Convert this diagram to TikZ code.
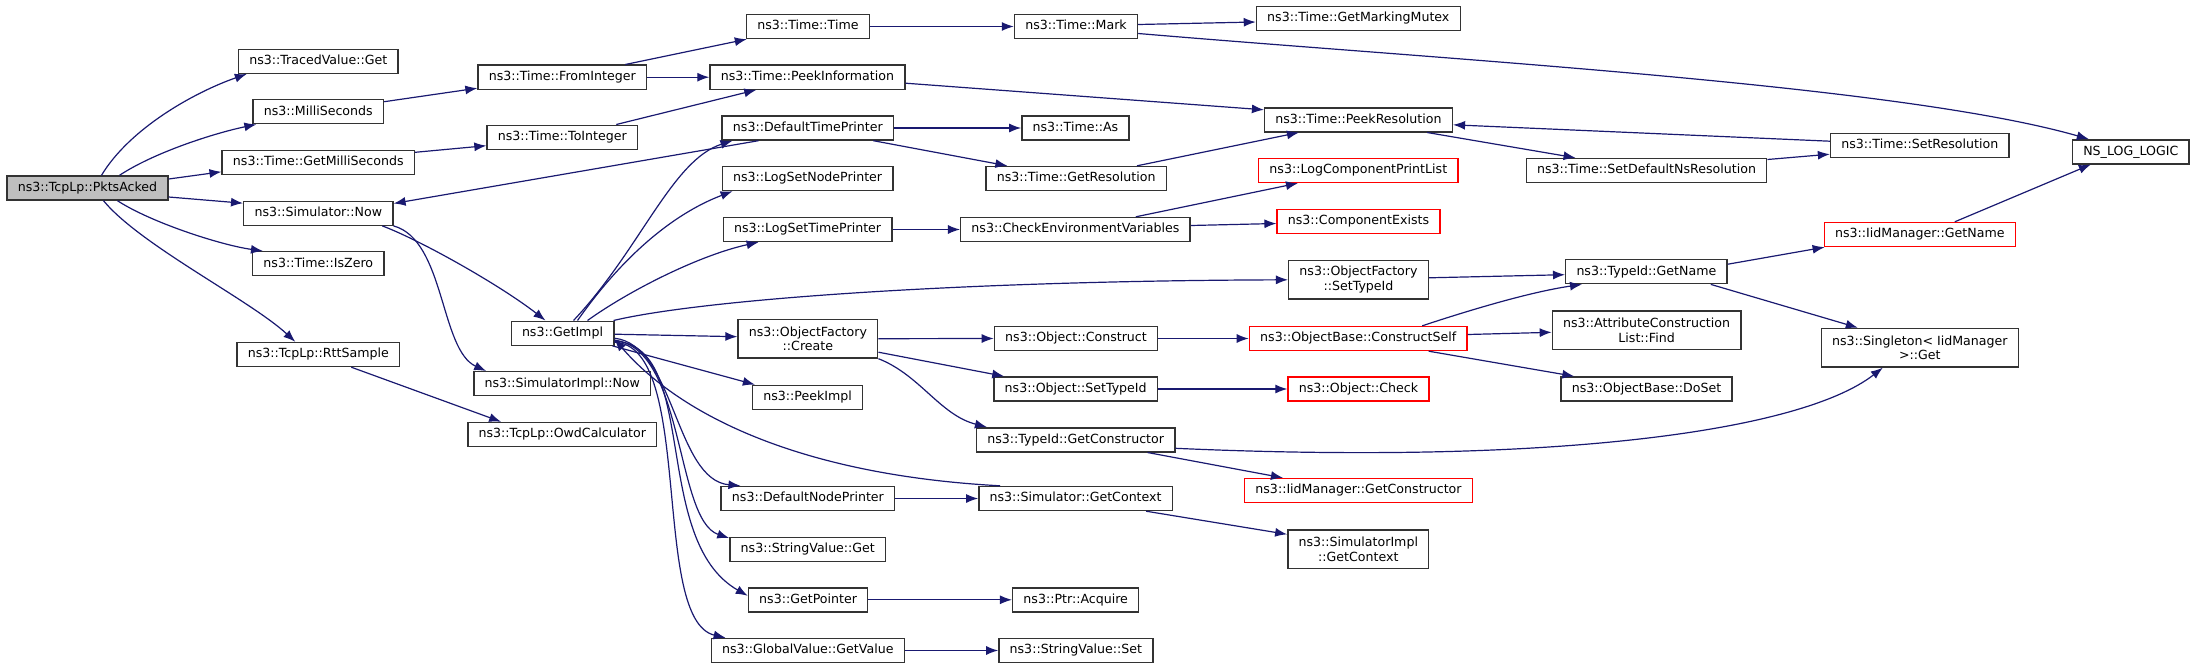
\documentclass[tikz,border=0pt]{standalone}
\usepackage{fontspec}
\setmainfont{DejaVu Sans}
\usepackage{tikz}
\usepackage{xcolor}
\usetikzlibrary{arrows.meta}
\definecolor{edgeblue}{RGB}{25,25,112}
\definecolor{rootgray}{RGB}{191,191,191}
\definecolor{missred}{RGB}{255,0,0}
\tikzset{
  fnbase/.style={draw=black!80,line width=1.4pt,fill=white,inner xsep=10.8pt,inner ysep=2pt,font=\fontsize{12.6}{14.6}\selectfont},
  fn/.style={fnbase,minimum height=24pt,text height=9.4pt,text depth=2.8pt},
  fntwo/.style={fnbase,minimum height=38.6pt,align=center},
  missing/.style={draw=missred},
  root/.style={fill=rootgray},
  call/.style={-{Latex[length=12pt,width=9pt]},edgeblue,line width=1.2pt},
}

\begin{document}
\begin{tikzpicture}[x=1pt,y=-1pt]
\useasboundingbox (0,0) rectangle (2197,669);
\node[fn,root] (pkts) at (87.5,188) {ns3::TcpLp::PktsAcked};
\node[fn] (traced) at (318.3,61.3) {ns3::TracedValue::Get};
\node[fn] (milli) at (318.3,111.7) {ns3::MilliSeconds};
\node[fn] (getms) at (318.3,162.3) {ns3::Time::GetMilliSeconds};
\node[fn] (simnow) at (318.3,213.2) {ns3::Simulator::Now};
\node[fn] (iszero) at (318.3,263.7) {ns3::Time::IsZero};
\node[fn] (rtt) at (318.3,354.5) {ns3::TcpLp::RttSample};
\node[fn] (fromint) at (562.3,77.2) {ns3::Time::FromInteger};
\node[fn] (toint) at (562.3,137.2) {ns3::Time::ToInteger};
\node[fn] (getimpl) at (562.5,333.2) {ns3::GetImpl};
\node[fn] (simimplnow) at (562.3,383.7) {ns3::SimulatorImpl::Now};
\node[fn] (owd) at (562.3,434.5) {ns3::TcpLp::OwdCalculator};
\node[fn] (ttime) at (807.9,26.5) {ns3::Time::Time};
\node[fn] (peekinfo) at (807.4,77.2) {ns3::Time::PeekInformation};
\node[fn] (dtp) at (807.9,128) {ns3::DefaultTimePrinter};
\node[fn] (lsnp) at (807.6,178.5) {ns3::LogSetNodePrinter};
\node[fn] (lstp) at (807.6,229.5) {ns3::LogSetTimePrinter};
\node[fntwo] (ofcreate) at (807.9,338.7) {ns3::ObjectFactory\\::Create};
\node[fn] (peekimpl) at (807.6,397.3) {ns3::PeekImpl};
\node[fn] (dnp) at (807.9,498.5) {ns3::DefaultNodePrinter};
\node[fn] (svget) at (807.8,549.3) {ns3::StringValue::Get};
\node[fn] (getptr) at (808.1,599.8) {ns3::GetPointer};
\node[fn] (gvget) at (807.8,650.5) {ns3::GlobalValue::GetValue};
\node[fn] (mark) at (1076,26.5) {ns3::Time::Mark};
\node[fn] (tas) at (1075.4,128) {ns3::Time::As};
\node[fn] (getres) at (1076.2,178.5) {ns3::Time::GetResolution};
\node[fn] (checkenv) at (1075.4,229.5) {ns3::CheckEnvironmentVariables};
\node[fn] (objconstruct) at (1076,338.5) {ns3::Object::Construct};
\node[fn] (objsettid) at (1075.7,389) {ns3::Object::SetTypeId};
\node[fn] (getctor) at (1075.7,439.8) {ns3::TypeId::GetConstructor};
\node[fn] (simgetctx) at (1075.6,498.5) {ns3::Simulator::GetContext};
\node[fn] (ptracq) at (1075.7,599.8) {ns3::Ptr::Acquire};
\node[fn] (svset) at (1075.9,650.5) {ns3::StringValue::Set};
\node[fn] (mutex) at (1358.3,18.5) {ns3::Time::GetMarkingMutex};
\node[fn] (peekres) at (1358.5,119.8) {ns3::Time::PeekResolution};
\node[fn,missing] (lcpl) at (1358.3,170.5) {ns3::LogComponentPrintList};
\node[fn,missing] (compexists) at (1358.5,221.5) {ns3::ComponentExists};
\node[fntwo] (ofsettid) at (1358.5,279.8) {ns3::ObjectFactory\\::SetTypeId};
\node[fn,missing] (constructself) at (1358.2,338.5) {ns3::ObjectBase::ConstructSelf};
\node[fn,missing] (objcheck) at (1358.5,389) {ns3::Object::Check};
\node[fn,missing] (iidgetctor) at (1358.5,490.5) {ns3::IidManager::GetConstructor};
\node[fntwo] (simimplctx) at (1358.3,549.3) {ns3::SimulatorImpl\\::GetContext};
\node[fn] (setdefns) at (1646.5,170.5) {ns3::Time::SetDefaultNsResolution};
\node[fn] (typename) at (1646.4,271.7) {ns3::TypeId::GetName};
\node[fntwo] (attrfind) at (1646.6,330.3) {ns3::AttributeConstruction\\List::Find};
\node[fn] (doset) at (1646.5,389) {ns3::ObjectBase::DoSet};
\node[fn] (setres) at (1919.8,145.2) {ns3::Time::SetResolution};
\node[fn,missing] (iidgetname) at (1919.8,234.5) {ns3::IidManager::GetName};
\node[fntwo] (singleton) at (1919.8,347.7) {ns3::Singleton< IidManager\\>::Get};
\node[fn] (nslog) at (2130.8,151.8) {NS\_LOG\_LOGIC};

\draw[call] ([xshift=14pt]pkts.north) .. controls (130,128) and (195,92) .. ([xshift=9pt]traced.south west);
\draw[call] ([xshift=32pt]pkts.north) .. controls (155,152) and (215,133) .. ([xshift=4pt]milli.south west);
\draw[call] ([yshift=9pt]pkts.east) -- ([yshift=-9.5pt]getms.west);
\draw[call] ([yshift=-9pt]pkts.east) -- ([yshift=10pt]simnow.west);
\draw[call] ([xshift=30pt]pkts.south) .. controls (150,222) and (220,245) .. ([xshift=11pt]iszero.north west);
\draw[call] ([xshift=16pt]pkts.south) .. controls (140,245) and (250,300) .. ([xshift=-23pt]rtt.north);
\draw[call] ([xshift=33pt]rtt.south) -- ([xshift=34pt]owd.north west);
\draw[call] ([yshift=10pt]milli.east) -- ([yshift=-11pt]fromint.west);
\draw[call] ([xshift=63pt]fromint.north) -- ([xshift=1pt]ttime.south west);
\draw[call] (fromint.east) -- (peekinfo.west);
\draw[call] ([yshift=10pt]getms.east) -- ([yshift=-8.5pt]toint.west);
\draw[call] ([xshift=54pt]toint.north) -- ([xshift=47pt]peekinfo.south west);
\draw[call] (ttime.east) -- (mark.west);
\draw[call] ([yshift=2pt]mark.east) -- ([yshift=-3.5pt]mutex.west);
\draw[call] ([yshift=-7pt]mark.east) .. controls (1450,60) and (1900,85) .. ([xshift=-42pt]nslog.north);
\draw[call] ([yshift=-6pt]peekinfo.east) -- ([yshift=10pt]peekres.west);
\draw[call] ([xshift=64pt]simnow.south) .. controls (420,240) and (500,285) .. ([xshift=-17pt]getimpl.north);
\draw[call] (simnow.south east) .. controls (445,240) and (440,350) .. ([xshift=13pt]simimplnow.north west);
\draw[call] ([xshift=37pt]dtp.south west) -- ([yshift=-3pt]simnow.north east);
\draw[call] ([xshift=11pt]getimpl.north) .. controls (640,250) and (672,160) .. ([xshift=11pt]dtp.south west);
\draw[call] (dtp.east) -- (tas.west);
\draw[call] ([xshift=-21pt]dtp.south east) -- ([xshift=22pt]getres.north west);
\draw[call] ([xshift=-30pt]getres.north east) -- ([xshift=35pt]peekres.south west);
\draw[call] ([xshift=-26pt]peekres.south east) -- ([xshift=50pt]setdefns.north west);
\draw[call] ([yshift=11pt]setdefns.east) -- ([yshift=-9pt]setres.west);
\draw[call] ([yshift=4pt]setres.west) -- ([yshift=-5pt]peekres.east);
\draw[call] ([xshift=15pt]getimpl.north) .. controls (620,260) and (670,215) .. ([xshift=11pt]lsnp.south west);
\draw[call] ([xshift=25pt]getimpl.north) .. controls (630,290) and (700,255) .. ([xshift=36pt]lstp.south west);
\draw[call] (lstp.east) -- (checkenv.west);
\draw[call] ([xshift=-55pt]checkenv.north east) -- ([xshift=40pt]lcpl.south west);
\draw[call] ([yshift=4pt]checkenv.east) -- ([yshift=-2pt]compexists.west);
\draw[call] ([xshift=-1pt]getimpl.north east) .. controls (700,300) and (950,281) .. (ofsettid.west);
\draw[call] ([yshift=2pt]ofsettid.east) -- ([yshift=-3pt]typename.west);
\draw[call] ([yshift=7.5pt]typename.east) -- ([xshift=1pt]iidgetname.south west);
\draw[call] ([xshift=35pt]iidgetname.north) -- ([xshift=-40pt]nslog.south);
\draw[call] ([xshift=-17pt]typename.south east) -- ([xshift=-62pt]singleton.north);
\draw[call] ([yshift=-1pt]getimpl.east) -- ([yshift=2pt]ofcreate.west);
\draw[call] (ofcreate.east) -- (objconstruct.west);
\draw[call] ([yshift=-13.5pt]ofcreate.east) -- ([xshift=11pt]objsettid.north west);
\draw[call] (ofcreate.south east) .. controls (920,375) and (940,415) .. ([xshift=11pt]getctor.north west);
\draw[call] (objconstruct.east) -- (constructself.west);
\draw[call] ([xshift=64pt]constructself.north) .. controls (1470,310) and (1530,292) .. ([xshift=17pt]typename.south west);
\draw[call] ([yshift=4pt]constructself.east) -- ([yshift=-2pt]attrfind.west);
\draw[call] ([xshift=-39pt]constructself.south east) -- ([xshift=14pt]doset.north west);
\draw[call] (objsettid.east) -- (objcheck.west);
\draw[call] ([yshift=-8.5pt]getctor.east) .. controls (1550,465) and (1800,432) .. ([xshift=-37pt]singleton.south);
\draw[call] ([xshift=-28pt]getctor.south east) -- ([xshift=39pt]iidgetctor.north west);
\draw[call] ([xshift=-2pt]getimpl.south east) -- ([xshift=3pt]peekimpl.north west);
\draw[call] ([xshift=22pt]simgetctx.north west) .. controls (800,475) and (680,415) .. ([yshift=-6pt]getimpl.east);
\draw[call] ([yshift=-5pt]getimpl.east) .. controls (675,345) and (675,480) .. ([xshift=20pt]dnp.north west);
\draw[call] (dnp.east) -- (simgetctx.west);
\draw[call] ([xshift=-27pt]simgetctx.south east) -- ([yshift=15pt]simimplctx.west);
\draw[call] ([yshift=-7pt]getimpl.east) .. controls (685,348) and (675,520) .. ([yshift=-1.5pt]svget.north west);
\draw[call] ([yshift=-8pt]getimpl.east) .. controls (700,345) and (650,540) .. ([yshift=4pt]getptr.west);
\draw[call] (getptr.east) -- (ptracq.west);
\draw[call] ([yshift=-9pt]getimpl.east) .. controls (695,345) and (650,620) .. ([xshift=15pt]gvget.north west);
\draw[call] (gvget.east) -- (svset.west);
\end{tikzpicture}
\end{document}
